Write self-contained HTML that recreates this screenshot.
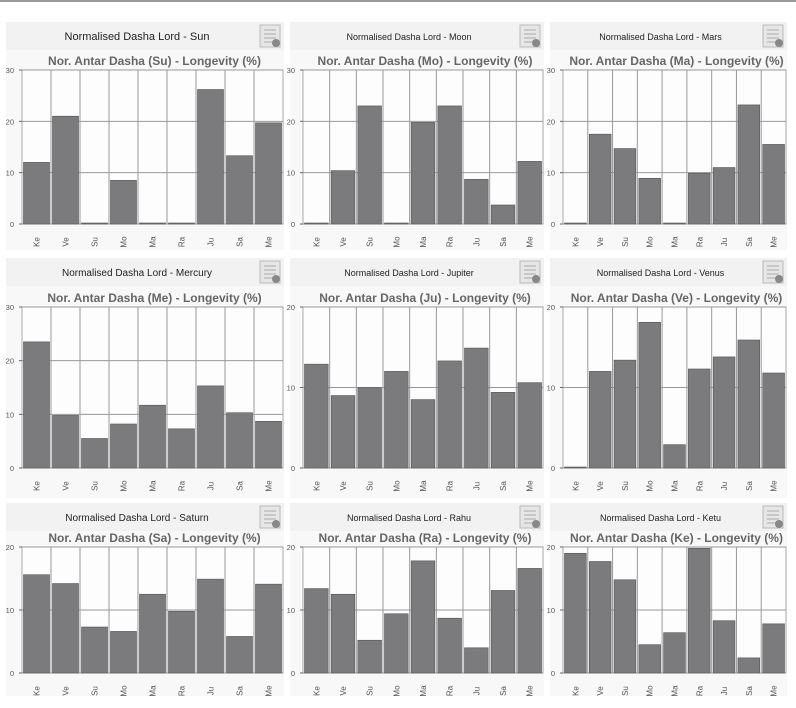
<!DOCTYPE html>
<html><head><meta charset="utf-8">
<style>
body{margin:0;width:796px;height:708px;background:#fff;font-family:"Liberation Sans",sans-serif;overflow:hidden;position:relative}
#topline{position:absolute;left:0;top:0;width:796px;height:2px;background:#9a9a9a}
</style></head><body>
<div id="topline"></div>
<svg id="svg" width="796" height="708" style="position:absolute;left:0;top:0"></svg>
<script>
const categories=["Ke","Ve","Su","Mo","Ma","Ra","Ju","Sa","Me"];
const lords=["Sun","Moon","Mars","Mercury","Jupiter","Venus","Saturn","Rahu","Ketu"];
const codes=["Su","Mo","Ma","Me","Ju","Ve","Sa","Ra","Ke"];
const yMaxes=[30,30,30,30,20,20,20,20,20];
const yTicksList=[[0,10,20,30],[0,10,20,30],[0,10,20,30],[0,10,20,30],[0,10,20],[0,10,20],[0,10,20],[0,10,20],[0,10,20]];
const valsSun=[12,21,0,8.5,0,0,26.2,13.3,19.7];
const valsMoon=[0,10.4,23,0,19.8,23,8.7,3.7,12.2];
const valsMars=[0,17.5,14.7,8.9,0,9.9,11,23.2,15.5];
const valsMercury=[23.5,9.8,5.5,8.2,11.7,7.3,15.3,10.3,8.7];
const valsJupiter=[12.9,9,10,12,8.5,13.3,14.9,9.4,10.6];
const valsVenus=[0,12,13.4,18.1,2.9,12.3,13.8,15.9,11.8];
const valsSaturn=[15.6,14.2,7.3,6.6,12.5,9.8,14.9,5.8,14.1];
const valsRahu=[13.4,12.5,5.2,9.4,17.8,8.7,4,13.1,16.6];
const valsKetu=[19,17.7,14.8,4.5,6.4,19.8,8.3,2.4,7.8];
const series=[valsSun,valsMoon,valsMars,valsMercury,valsJupiter,valsVenus,valsSaturn,valsRahu,valsKetu];

const NS="http://www.w3.org/2000/svg";
const svg=document.getElementById('svg');
function mk(tag,attrs,parent){const e=document.createElementNS(NS,tag);for(const k in attrs)e.setAttribute(k,attrs[k]);(parent||svg).appendChild(e);return e;}
const cols=[{px:6,pw:278,x0:22,x1:283},{px:290,pw:254,x0:303,x1:543},{px:550,pw:237,x0:563,x1:786}];
const rows=[{py:22,y0:70,y1:224,pb:250},{py:258,y0:307,y1:468,pb:498},{py:503,y0:547,y1:673,pb:696}];
const hdrSize=[11,9,9,10,9,9,10,9,9];
for(let i=0;i<9;i++){
  const c=cols[i%3],r=rows[Math.floor(i/3)];
  const g=mk('g',{});
  
  
  mk('rect',{x:c.px,y:r.py,width:c.pw,height:r.pb-r.py,fill:'#f8f8f8'},g);
  const hd=mk('rect',{x:c.px,y:r.py,width:c.pw,height:28,fill:'#f2f2f2'},g);
  
  
  const ht=mk('text',{x:c.px+c.pw/2-8,y:r.py+18,'text-anchor':'middle','font-size':hdrSize[i],fill:'#222'},g);
  ht.textContent='Normalised Dasha Lord - '+lords[i];
  
  
  const ic=mk('g',{},g);
  
  
  const ix=c.px+c.pw-24,iy=r.py+3;
  mk('rect',{x:ix,y:iy,width:20,height:22,fill:'#e6e6e6',stroke:'#bbb'},ic);
  for(let k=0;k<4;k++)mk('line',{x1:ix+4,x2:ix+16,y1:iy+5+k*4,y2:iy+5+k*4,stroke:'#aaa'},ic);
  mk('circle',{cx:ix+16,cy:iy+18,r:4,fill:'#888'},ic);
  const t=mk('text',{x:(c.x0+c.x1)/2+2,y:r.y0-5,'text-anchor':'middle','font-size':12,'font-weight':'bold',fill:'#666'},g);
  t.textContent='Nor. Antar Dasha ('+codes[i]+') - Longevity (%)';
  
  
  mk('rect',{x:c.x0,y:r.y0,width:c.x1-c.x0,height:r.y1-r.y0,fill:'#fdfdfd',stroke:'#aaa'},g);
  const ymax=yMaxes[i];
  const yS=v=>r.y1-(v/ymax)*(r.y1-r.y0);
  const bw=(c.x1-c.x0)/categories.length;
  const xS=j=>c.x0+j*bw;
  yTicksList[i].forEach(v=>{
    mk('line',{x1:c.x0,x2:c.x1,y1:yS(v),y2:yS(v),stroke:'#999'},g);
    mk('line',{x1:c.x0-3,x2:c.x0,y1:yS(v),y2:yS(v),stroke:'#666'},g);
    const tl=mk('text',{x:c.x0-8,y:yS(v)+3,'text-anchor':'end','font-size':7.5,fill:'#555'},g);
    tl.textContent=v;
    
    
  });
  for(let j=1;j<categories.length;j++)mk('line',{x1:xS(j),x2:xS(j),y1:r.y0,y2:r.y1,stroke:'#999'},g);
  series[i].forEach((v,j)=>{
    const h=Math.max(r.y1-yS(v),1);
    const b=mk('rect',{x:xS(j)+1.5,y:r.y1-h,width:bw-3,height:h,fill:'#7b7b7d',stroke:'#555','stroke-width':0.6},g);
    
    
    const lx=xS(j)+bw/2+3,ly=r.y1+18;
    const cl=mk('text',{x:lx,y:ly,'text-anchor':'middle','font-size':8,fill:'#555',transform:'rotate(-90 '+lx+' '+ly+')'},g);
    cl.textContent=categories[j];
    
    
  });
}
</script>
</body></html>
